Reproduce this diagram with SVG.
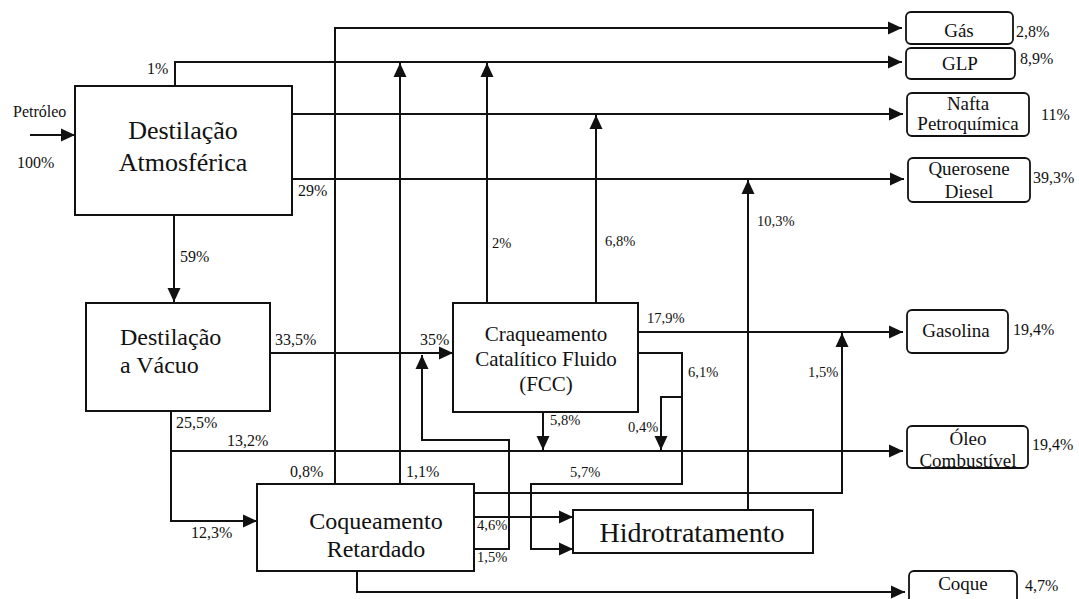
<svg xmlns="http://www.w3.org/2000/svg" width="1079" height="599" viewBox="0 0 1079 599" font-family="Liberation Serif, DejaVu Serif, Times New Roman, serif">
<style>
text{font-family:"Liberation Serif","DejaVu Serif","Times New Roman",Times,serif;fill:#111}
.box{fill:#fff;stroke:#111;stroke-width:2}
.prod{fill:#fff;stroke:#111;stroke-width:1.8}
.ln{fill:none;stroke:#111;stroke-width:2}
.big{font-size:26px;text-anchor:middle}
.mid{font-size:24px}
.pt{font-size:19px;text-anchor:middle}
.p16{font-size:16px}
.p14{font-size:14.5px}
</style>
<defs>
<marker id="ah" markerUnits="userSpaceOnUse" markerWidth="14" markerHeight="14" viewBox="0 0 14 14" refX="14" refY="7" orient="auto">
<path d="M0,0.5 L14,7 L0,13.5 z" fill="#111"/>
</marker>
</defs>
<rect width="1079" height="599" fill="#fff"/>
<g id="connectors">
<path class="ln" d="M30,135 H75" marker-end="url(#ah)"/>
<path class="ln" d="M175,86 V62 H902" marker-end="url(#ah)"/>
<path class="ln" d="M335,484 V28 H902" marker-end="url(#ah)"/>
<path class="ln" d="M292,114 H903" marker-end="url(#ah)"/>
<path class="ln" d="M292,179 H904" marker-end="url(#ah)"/>
<path class="ln" d="M174,215 V302" marker-end="url(#ah)"/>
<path class="ln" d="M270,353 H453" marker-end="url(#ah)"/>
<path class="ln" d="M487,303 V63" marker-end="url(#ah)"/>
<path class="ln" d="M596,303 V115" marker-end="url(#ah)"/>
<path class="ln" d="M400,484 V63" marker-end="url(#ah)"/>
<path class="ln" d="M748,510 V180" marker-end="url(#ah)"/>
<path class="ln" d="M638,332 H903" marker-end="url(#ah)"/>
<path class="ln" d="M474,493 H842 V333" marker-end="url(#ah)"/>
<path class="ln" d="M638,353 H682 V484 H531 V549 H573" marker-end="url(#ah)"/>
<path class="ln" d="M682,397 H661 V450" marker-end="url(#ah)"/>
<path class="ln" d="M543,412 V450" marker-end="url(#ah)"/>
<path class="ln" d="M171,411 V521 H257" marker-end="url(#ah)"/>
<path class="ln" d="M171,451 H903" marker-end="url(#ah)"/>
<path class="ln" d="M474,517 H573" marker-end="url(#ah)"/>
<path class="ln" d="M474,549 H509 V440 H422 V355" marker-end="url(#ah)"/>
<path class="ln" d="M357,571 V592 H905" marker-end="url(#ah)"/>
</g>
<g id="labels">
<text class="p16" x="13" y="117">Petróleo</text>
<text class="p16" x="17" y="168">100%</text>
<text class="p16" x="147" y="74">1%</text>
<text class="p16" x="298" y="196">29%</text>
<text class="p16" x="180" y="262">59%</text>
<text class="p16" x="275" y="345">33,5%</text>
<text class="p16" x="420" y="345">35%</text>
<text class="p16" x="176" y="428">25,5%</text>
<text class="p16" x="227" y="446">13,2%</text>
<text class="p16" x="290" y="477">0,8%</text>
<text class="p16" x="406" y="477">1,1%</text>
<text class="p16" x="191" y="538">12,3%</text>
<text class="p14" x="477" y="530">4,6%</text>
<text class="p14" x="477" y="562">1,5%</text>
<text class="p14" x="570" y="477">5,7%</text>
<text class="p14" x="550" y="425">5,8%</text>
<text class="p14" x="628" y="432">0,4%</text>
<text class="p14" x="688" y="377">6,1%</text>
<text class="p14" x="808" y="377">1,5%</text>
<text class="p14" x="647" y="323">17,9%</text>
<text class="p14" x="492" y="248">2%</text>
<text class="p14" x="605" y="246">6,8%</text>
<text class="p14" x="757" y="226">10,3%</text>
<text class="p16" x="1016" y="37">2,8%</text>
<text class="p16" x="1020" y="64">8,9%</text>
<text class="p16" x="1041" y="120">11%</text>
<text class="p16" x="1033" y="183">39,3%</text>
<text class="p16" x="1013" y="335">19,4%</text>
<text class="p16" x="1032" y="450">19,4%</text>
<text class="p16" x="1025" y="591">4,7%</text>
</g>
<g id="destilacao-atmosferica">
<rect class="box" x="75" y="86" width="217" height="129"/>
<text class="big" x="183" y="139">Destilação</text>
<text class="big" x="183" y="171">Atmosférica</text>
</g>
<g id="destilacao-vacuo">
<rect class="box" x="86" y="303" width="184" height="108"/>
<text class="mid" x="120" y="345">Destilação</text>
<text class="mid" x="120" y="373">a Vácuo</text>
</g>
<g id="fcc">
<rect class="box" x="453" y="303" width="185" height="109"/>
<text font-size="21" text-anchor="middle" x="546" y="341">Craqueamento</text>
<text font-size="21" text-anchor="middle" x="546" y="366">Catalítico Fluido</text>
<text font-size="21" text-anchor="middle" x="546" y="391">(FCC)</text>
</g>
<g id="coqueamento">
<rect class="box" x="257" y="484" width="217" height="87"/>
<text class="mid" text-anchor="middle" x="376" y="529">Coqueamento</text>
<text class="mid" text-anchor="middle" x="376" y="557">Retardado</text>
</g>
<g id="hidrotratamento">
<rect class="box" x="573" y="510" width="240" height="43"/>
<text font-size="28" text-anchor="middle" x="692" y="542">Hidrotratamento</text>
</g>
<g id="gas">
<rect class="prod" x="906" y="12" width="107" height="32" rx="5"/>
<text class="pt" x="959" y="37">Gás</text>
</g>
<g id="glp">
<rect class="prod" x="906" y="48" width="109" height="31" rx="5"/>
<text class="pt" x="960" y="70">GLP</text>
</g>
<g id="nafta">
<rect class="prod" x="907" y="93" width="122" height="43" rx="5"/>
<text class="pt" x="968" y="110">Nafta</text>
<text class="pt" x="968" y="130">Petroquímica</text>
</g>
<g id="querosene">
<rect class="prod" x="908" y="158" width="122" height="44" rx="5"/>
<text class="pt" x="969" y="175">Querosene</text>
<text class="pt" x="969" y="198">Diesel</text>
</g>
<g id="gasolina">
<rect class="prod" x="907" y="310" width="101" height="43" rx="5"/>
<text class="pt" x="956" y="337">Gasolina</text>
</g>
<g id="oleo">
<rect class="prod" x="907" y="426" width="121" height="42" rx="5"/>
<text class="pt" x="968" y="445">Óleo</text>
<text class="pt" x="968" y="467">Combustível</text>
</g>
<g id="coque">
<rect class="prod" x="909" y="571" width="108" height="40" rx="5"/>
<text class="pt" x="963" y="590">Coque</text>
</g>
</svg>
